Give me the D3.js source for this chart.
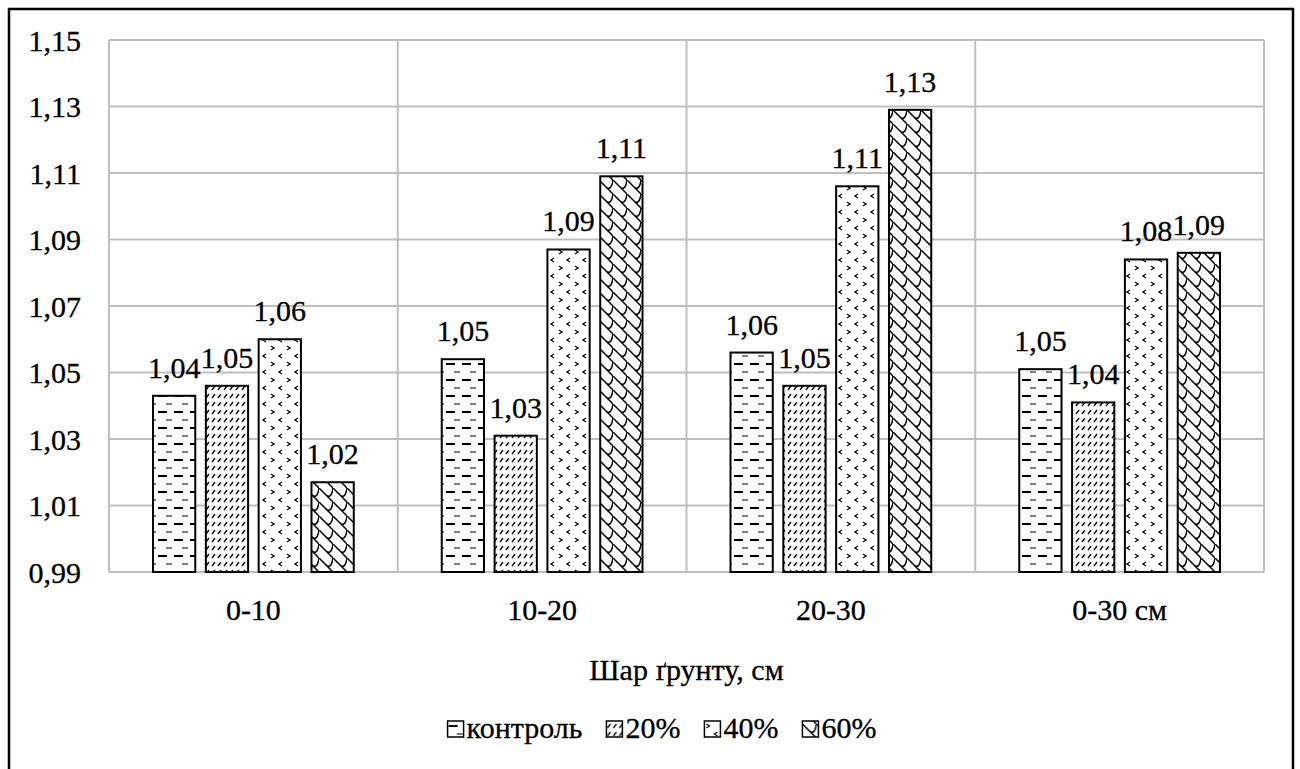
<!DOCTYPE html>
<html>
<head>
<meta charset="utf-8">
<script src="https://cdn.jsdelivr.net/npm/d3@7"></script>
<style>
  body { margin: 0; background: #fff; }
  svg text { font-family: "Liberation Serif", "Times New Roman", serif; fill: #000; stroke: #000; stroke-width: 0.3px; }
</style>
</head>
<body>
<div id="chart"></div>
<script>
// data
const categories = ["0-10", "10-20", "20-30", "0-30 см"];
const series = ["контроль", "20%", "40%", "60%"];
const kontrol = [1.043, 1.054, 1.056, 1.051];
const p20 = [1.046, 1.031, 1.046, 1.041];
const p40 = [1.060, 1.087, 1.106, 1.084];
const p60 = [1.017, 1.109, 1.129, 1.086];
const yTicks = [0.99, 1.01, 1.03, 1.05, 1.07, 1.09, 1.11, 1.13, 1.15];
const xTitle = "Шар ґрунту, см";

const values = [kontrol, p20, p40, p60];

const W = 1300, H = 769;
const margin = { top: 40, right: 36, bottom: 197, left: 109 },
    width = W - margin.left - margin.right,
    height = H - margin.top - margin.bottom;

const svg = d3.select('#chart')
    .append('svg')
    .attr('width', W)
    .attr('height', H)
    .attr('font-family', '"Liberation Serif", "Times New Roman", serif');

// fill patterns, black on white
const defs = svg.append('defs');
function pat(id, w, h) {
    const p = defs.append('pattern')
        .attr('id', id)
        .attr('patternUnits', 'userSpaceOnUse')
        .attr('width', w)
        .attr('height', h);
    p.append('rect').attr('width', w).attr('height', h).attr('fill', '#fff');
    return p;
}
// контроль: horizontal dashes, thick and thin rows
let p = pat('pat0', 16, 16);
p.append('line').attr('x1', 1).attr('x2', 10).attr('y1', 4).attr('y2', 4)
    .attr('stroke', '#000').attr('stroke-width', 2);
p.append('line').attr('x1', 9).attr('x2', 15).attr('y1', 12).attr('y2', 12)
    .attr('stroke', '#000').attr('stroke-width', 1);
// 20%: short diagonal dashes
p = pat('pat1', 6, 8);
p.append('path').attr('d', 'M1,6 L4,2').attr('stroke', '#000').attr('stroke-width', 1.3);
// 40%: small chevrons
p = pat('pat2', 16, 16);
p.append('path').attr('d', 'M2,2 L5,4 L2,6').attr('stroke', '#000').attr('fill', 'none').attr('stroke-width', 1.3);
p.append('path').attr('d', 'M13,10 L10,12 L13,14').attr('stroke', '#000').attr('fill', 'none').attr('stroke-width', 1.3);
// 60%: shingle lattice
p = pat('pat3', 14, 14);
p.append('path').attr('d', 'M-1,-1 L15,15 M7,7 C10,10 13,8 14,0')
    .attr('stroke', '#000').attr('fill', 'none').attr('stroke-width', 1.5);

// outer border
svg.append('rect')
    .attr('x', 9).attr('y', 9)
    .attr('width', 1284).attr('height', 780)
    .attr('fill', 'none').attr('stroke', '#000').attr('stroke-width', 2.5);

const g = svg.append('g')
    .attr('transform', `translate(${margin.left},${margin.top})`);

const x0 = d3.scaleBand().domain(categories).range([0, width]).padding(0);
const x1 = d3.scaleBand().domain(series)
    .range([44, x0.bandwidth() - 44])
    .paddingInner(0.2);
const y = d3.scaleLinear().domain([0.99, 1.15]).range([height, 0]);
const fmt = v => d3.format('.2f')(v).replace('.', ',');

// grid
g.selectAll('.hgrid')
    .data(yTicks)
    .join('line')
    .attr('x1', 0).attr('x2', width)
    .attr('y1', d => y(d)).attr('y2', d => y(d))
    .attr('stroke', '#bfbfbf').attr('stroke-width', 2);
g.selectAll('.vgrid')
    .data(categories.concat(['end']))
    .join('line')
    .attr('x1', (d, i) => i * x0.step()).attr('x2', (d, i) => i * x0.step())
    .attr('y1', 0).attr('y2', height)
    .attr('stroke', '#bfbfbf').attr('stroke-width', 2);

// y tick labels
g.selectAll('.ytick')
    .data(yTicks)
    .join('text')
    .attr('x', -28)
    .attr('y', d => y(d))
    .attr('dy', '0.35em')
    .attr('text-anchor', 'end')
    .attr('font-size', '30px')
    .text(fmt);

// x category labels
g.selectAll('.xtick')
    .data(categories)
    .join('text')
    .attr('x', d => x0(d) + x0.bandwidth() / 2)
    .attr('y', height + 48)
    .attr('text-anchor', 'middle')
    .attr('font-size', '30px')
    .text(d => d);

// bars
const rows = [];
categories.forEach((c, ci) => {
    series.forEach((s, si) => {
        rows.push({ cat: c, ser: s, si: si, v: values[si][ci] });
    });
});

g.selectAll('.bar')
    .data(rows)
    .join('rect')
    .attr('x', d => x0(d.cat) + x1(d.ser))
    .attr('y', d => y(d.v))
    .attr('width', x1.bandwidth())
    .attr('height', d => y(0.99) - y(d.v))
    .attr('fill', d => `url(#pat${d.si})`)
    .attr('stroke', '#000')
    .attr('stroke-width', 2);

// data labels
g.selectAll('.lbl')
    .data(rows)
    .join('text')
    .attr('x', d => x0(d.cat) + x1(d.ser) + x1.bandwidth() / 2)
    .attr('y', d => y(d.v) - 18)
    .attr('text-anchor', 'middle')
    .attr('font-size', '30px')
    .text(d => fmt(d.v));

// axis title
g.append('text')
    .attr('x', width / 2)
    .attr('y', height + 108)
    .attr('text-anchor', 'middle')
    .attr('font-size', '30px')
    .text(xTitle);

// legend
const legend = svg.append('g');
let lx = 0;
series.forEach((s, i) => {
    const item = legend.append('g').attr('transform', `translate(${lx},0)`);
    item.append('rect')
        .attr('x', 0).attr('y', -17)
        .attr('width', 16).attr('height', 16)
        .attr('fill', `url(#pat${i})`)
        .attr('stroke', '#000').attr('stroke-width', 1.5);
    const t = item.append('text')
        .attr('x', 19).attr('y', 0)
        .attr('font-size', '30px')
        .text(s);
    lx += 19 + t.node().getComputedTextLength() + 24;
});
lx -= 24;
legend.attr('transform', `translate(${662 - lx / 2},738)`);
</script>
</body>
</html>
